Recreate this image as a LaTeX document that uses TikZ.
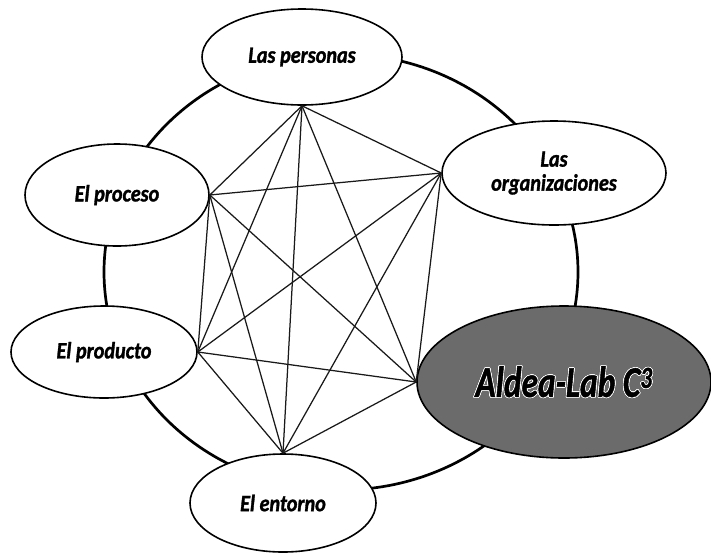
\documentclass[tikz,border=0pt]{standalone}
\usepackage{fontspec}
\setmainfont{Carlito}
\newfontfamily\topicfont{Carlito}[FakeStretch=0.86, BoldItalicFeatures={FakeBold=1.3}]
\newfontfamily\labfont{Carlito}[FakeStretch=0.76, BoldItalicFeatures={FakeBold=1.0}]
\usepackage{contour}
\contourlength{0.7pt}
\usetikzlibrary{shapes.geometric}
\begin{document}
\begin{tikzpicture}[x=1pt,y=-1pt,
  topic/.style={ellipse, draw=black, line width=1.6pt, fill=white, inner sep=0pt,
    font=\topicfont\fontsize{23.5}{24}\selectfont\bfseries\itshape, align=center},
  link/.style={line width=1.25pt, black!90},
  ring/.style={line width=2.7pt}]
\useasboundingbox (0,0) rectangle (711,552);
\draw[ring] (341,272) ellipse [x radius=237pt, y radius=218pt];
\node[topic, minimum width=200pt, minimum height=96pt] (per) at (302,57) {Las personas};
\node[topic, minimum width=224pt, minimum height=104pt] (org) at (554,173) {Las\\organizaciones};
\node[topic, minimum width=184pt, minimum height=102pt] (pro) at (117,195) {El proceso};
\node[topic, minimum width=186pt, minimum height=92pt] (prd) at (104,352) {El producto};
\node[topic, minimum width=186pt, minimum height=98pt] (ent) at (283,503) {El entorno};
\node[topic, fill=black!58, minimum width=294pt, minimum height=152pt,
  font=\labfont\fontsize{44}{46}\selectfont\bfseries\itshape] (ald) at (564,382)
  {\contour{white}{Aldea-Lab C\textsuperscript{3}}};
\foreach \a/\b in {per.south/org.west, per.south/pro.east, per.south/prd.east,
  per.south/ent.north, per.south/ald.west, org.west/pro.east, org.west/prd.east,
  org.west/ent.north, org.west/ald.west, pro.east/prd.east, pro.east/ent.north,
  pro.east/ald.west, prd.east/ent.north, prd.east/ald.west, ent.north/ald.west}
  \draw[link] (\a) -- (\b);
\end{tikzpicture}
\end{document}
